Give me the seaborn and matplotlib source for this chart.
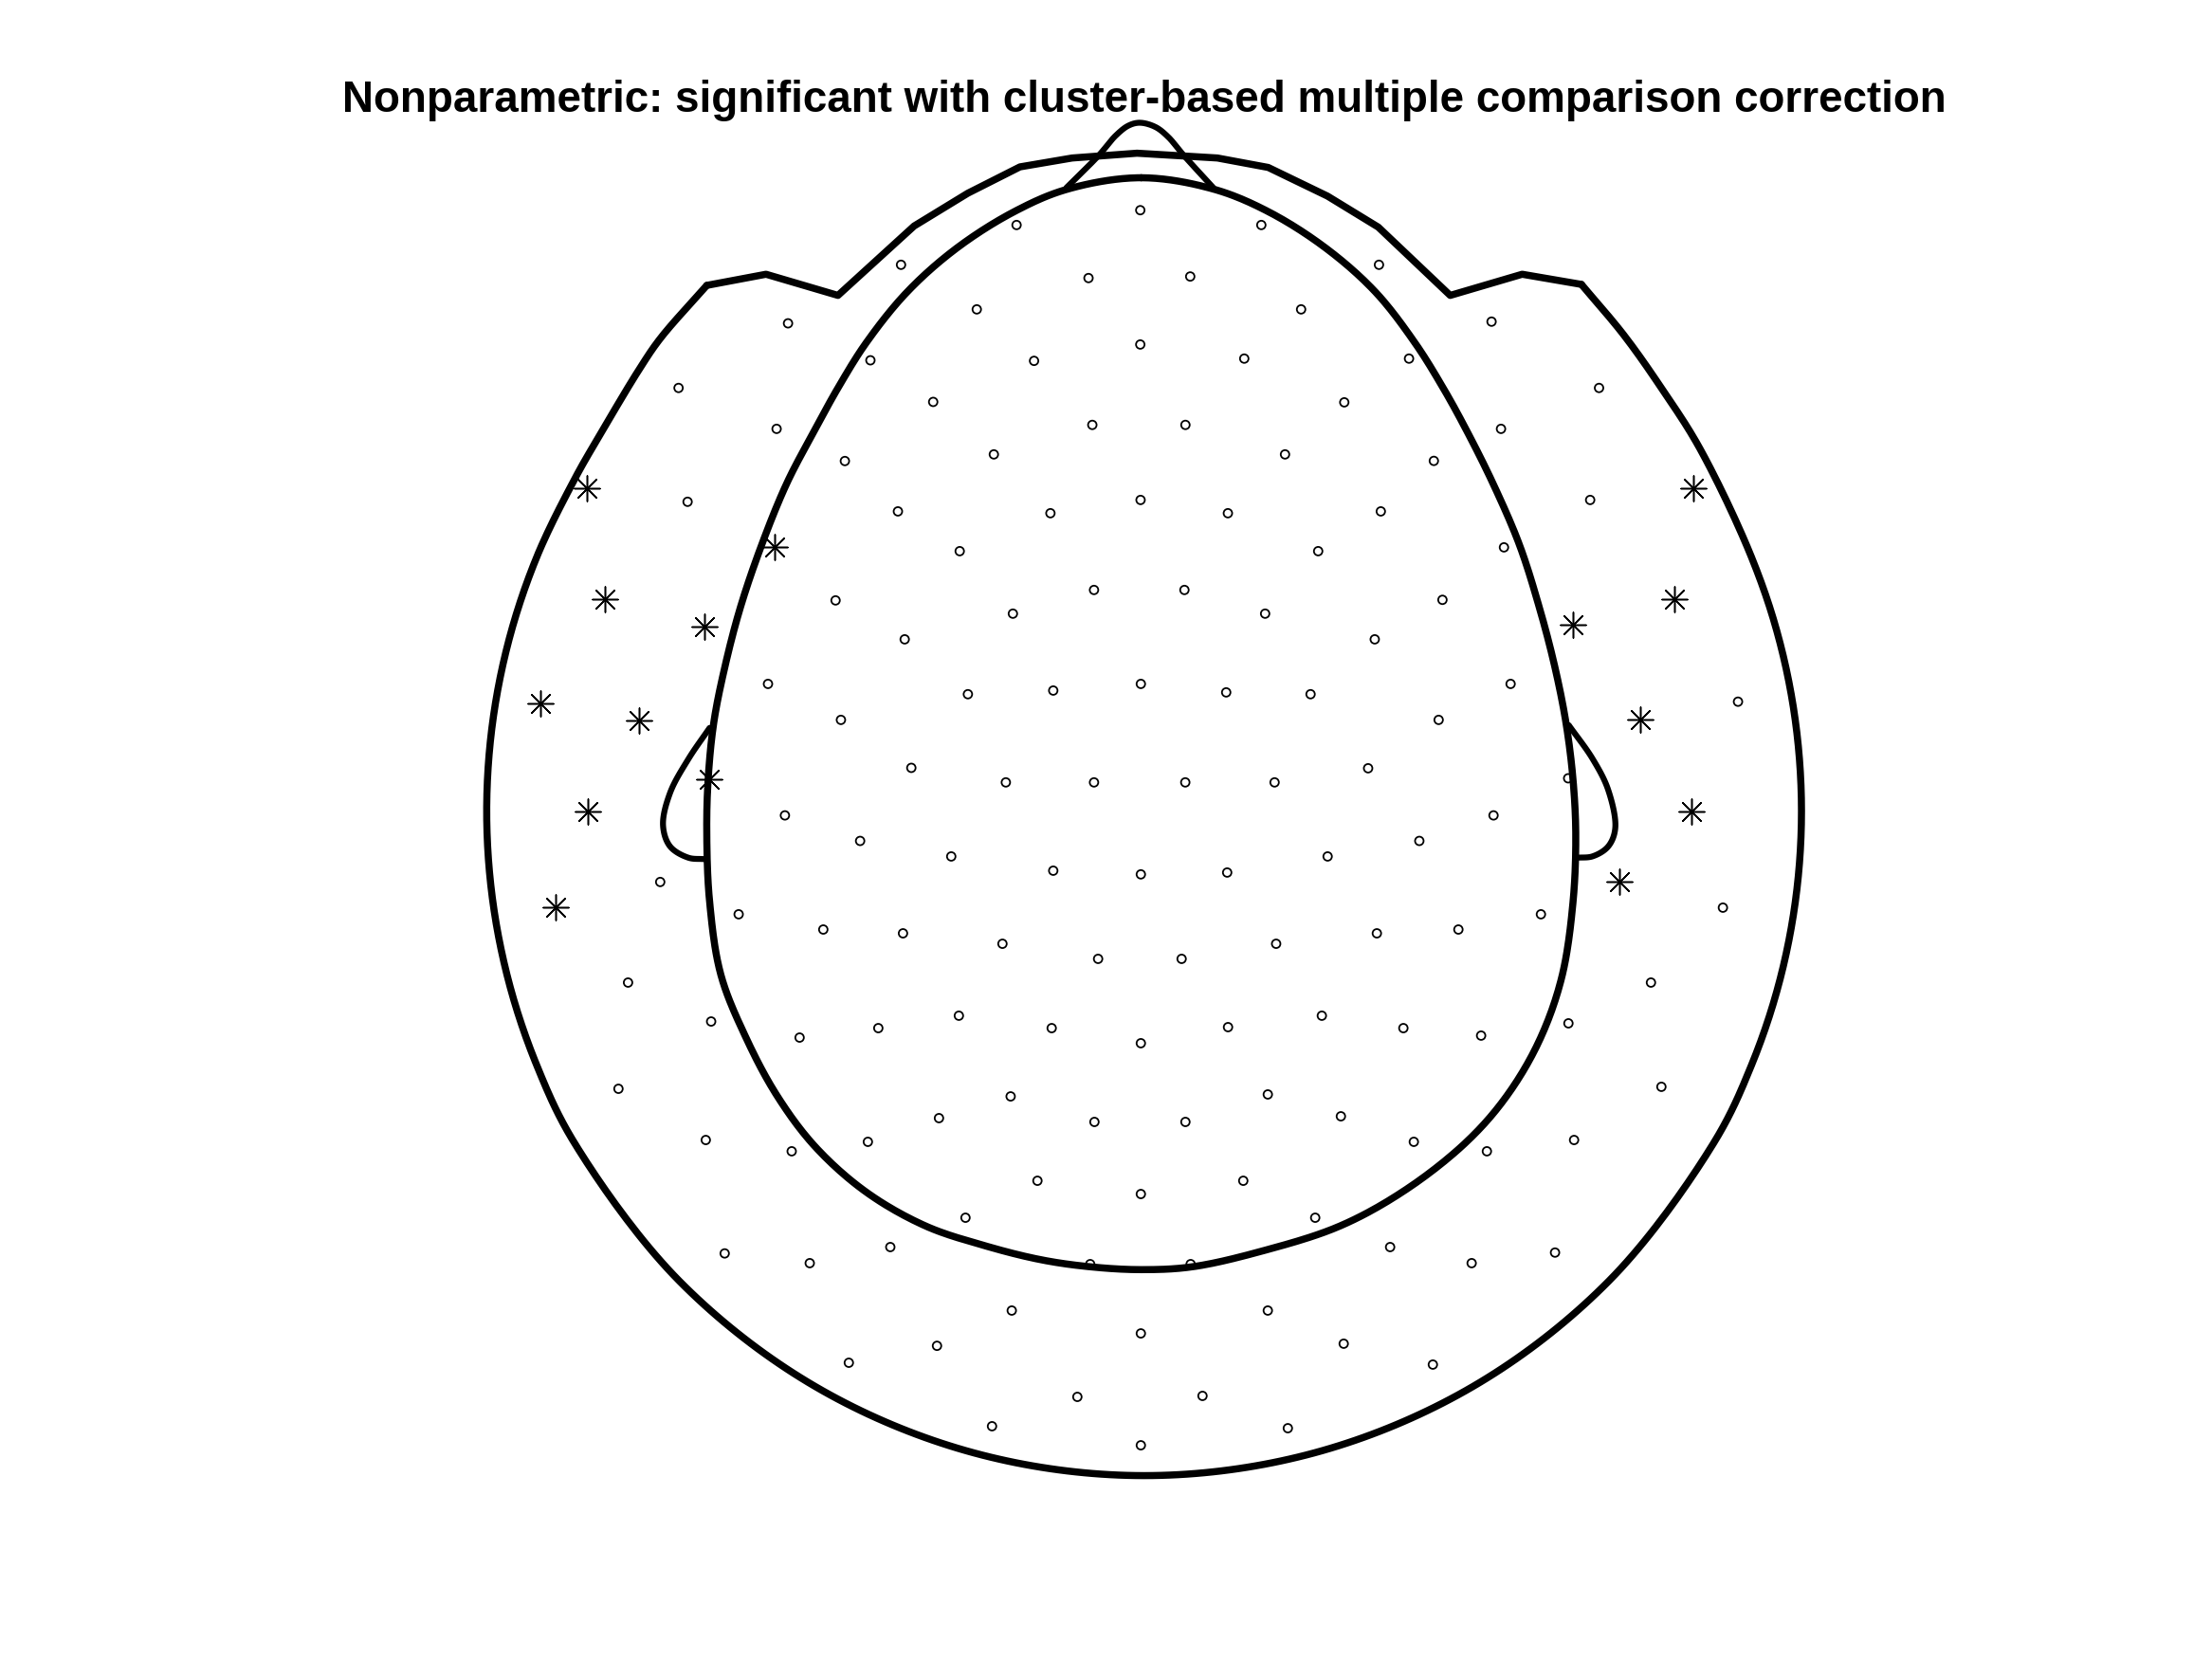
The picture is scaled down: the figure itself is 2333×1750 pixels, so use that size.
import numpy as np
import pandas as pd
import matplotlib
matplotlib.use("Agg")
import matplotlib.pyplot as plt
import seaborn as sns

# channel positions (1568x1176 px frame, y down)
chan_x = [808.3, 720.6, 894.1, 638.7, 977.5, 771.6, 843.7, 692.4, 922.3, 558.6,
          1057.3, 808.3, 617.0, 733.0, 882.0, 998.8, 481.0, 1133.5, 661.5, 952.9,
          550.5, 1064.0, 774.3, 840.3, 704.5, 910.9, 598.9, 1016.4, 487.4, 1127.2,
          808.5, 636.5, 744.6, 870.4, 978.8, 680.3, 934.4, 1066.1, 592.3, 1022.5,
          775.5, 839.6, 718.0, 896.8, 641.3, 974.5, 544.4, 1070.8, 686.1, 746.6,
          808.7, 869.2, 929.0, 1232.0, 596.1, 1019.8, 646.0, 969.8, 713.0, 775.5,
          840.2, 903.5, 1111.6, 556.4, 1058.7, 609.7, 1006.1, 674.3, 941.1, 746.6,
          808.7, 869.9, 468.0, 1221.3, 523.6, 1092.3, 583.6, 1033.8, 640.1, 976.0,
          710.6, 904.6, 778.4, 837.6, 445.2, 1170.3, 679.7, 937.0, 504.1, 1111.8,
          622.6, 994.8, 745.5, 870.5, 566.8, 1049.9, 808.7, 438.4, 1177.7, 716.4,
          898.7, 665.6, 950.5, 775.8, 840.3, 500.3, 1115.8, 615.2, 1002.2, 561.2,
          1054.0, 735.4, 881.3, 808.7, 684.4, 932.3, 513.7, 1102.3, 574.0, 1043.2,
          631.1, 985.4, 772.8, 844.0, 717.2, 898.7, 808.7, 664.2, 952.5, 601.7,
          1015.7, 763.7, 852.4, 703.2, 912.9, 808.7]
chan_y = [149.0, 159.5, 159.5, 187.7, 187.7, 197.1, 196.0, 219.3, 219.3, 229.2,
          228.0, 244.2, 255.4, 255.8, 254.2, 254.2, 275.0, 275.0, 284.9, 285.2,
          304.0, 304.0, 301.2, 301.2, 322.1, 322.1, 326.8, 326.7, 355.7, 354.4,
          354.4, 362.5, 363.8, 363.8, 362.5, 390.7, 390.7, 388.0, 425.6, 425.2,
          418.2, 418.2, 435.0, 435.0, 453.2, 453.2, 484.8, 484.8, 492.1, 489.5,
          484.8, 490.8, 492.1, 497.4, 510.3, 510.3, 544.3, 544.6, 554.6, 554.6,
          554.6, 554.6, 551.7, 578.0, 578.0, 596.1, 596.1, 607.1, 607.1, 617.2,
          619.8, 618.5, 625.2, 643.4, 648.1, 648.1, 658.9, 658.9, 661.6, 661.6,
          669.0, 669.0, 679.7, 679.7, 696.5, 696.5, 720.0, 720.0, 724.1, 725.4,
          728.8, 728.8, 728.8, 728.1, 735.5, 734.1, 739.5, 771.8, 770.4, 777.2,
          775.8, 792.6, 791.3, 795.3, 795.3, 808.1, 808.1, 809.4, 809.4, 816.1,
          816.1, 837.0, 837.0, 846.4, 863.2, 863.2, 888.5, 887.9, 895.4, 895.4,
          884.0, 884.0, 896.1, 896.1, 929.0, 929.0, 945.2, 954.0, 952.5, 966.0,
          967.3, 990.2, 989.5, 1011.0, 1012.4, 1024.5]

# channels in the significant cluster
sig_x = [416.2, 549.0, 429.0, 499.5, 383.0, 453.0, 503.0, 416.6, 394.0,
         1200.3, 1187.0, 1115.2, 1162.8, 1199.2, 1148.1]
sig_y = [346.3, 388.0, 425.0, 444.3, 498.6, 510.4, 552.3, 575.5, 643.2,
         346.3, 425.0, 443.1, 510.2, 575.5, 625.1]

# helmet outline: angular top part, and the rounded rest
head_top_x = [501, 543, 594, 648, 686, 723, 760, 806, 863, 899, 941, 977, 1028, 1079, 1121]
head_top_y = [202.3, 194.4, 209.4, 160.2, 137, 118.3, 112, 108.6, 112, 118.7, 139, 161,
              209.4, 194.4, 201.6]
head_low_x = [1121, 1151, 1178, 1205, 1241.5, 1261.1, 1273, 1277, 1273, 1261.1,
              1241.5, 1214.6, 1140.5, 1044, 931.6, 811, 690.4, 578, 481.5, 407.4,
              380.5, 360.9, 349, 345, 349, 360.9, 380.5, 407.4, 426, 453, 468, 501]
head_low_y = [201.6, 237.4, 275.5, 318, 394.8, 453.1, 513.5, 575, 636.5, 696.9,
              755.2, 810.5, 908.0, 982.9, 1029.9, 1046, 1029.9, 982.9, 908.0, 810.5,
              755.2, 696.9, 636.5, 575, 513.5, 453.1, 394.8, 339.5, 307, 262, 240, 202.3]

inner_x = [809, 860, 899, 940, 975, 1003, 1023, 1039, 1058, 1077, 1091, 1102, 1110,
           1115, 1117, 1115, 1107, 1091, 1068, 1040, 997, 950, 894, 845, 809,
           773, 738, 698, 656, 614, 578, 551, 529, 511, 503, 501, 502, 506,
           514, 525, 540, 558, 578, 594, 614, 643, 678, 719, 757, 809]
inner_y = [126, 134, 150, 176, 207, 243, 275, 304, 342, 386, 430, 472, 512, 552, 592,
           640, 693, 738, 777, 809, 843, 869, 887, 898, 900, 898, 893, 883,
           869, 845, 813, 777, 736, 691, 639, 590, 552, 512, 472, 430, 386,
           342, 304, 275, 243, 207, 176, 150, 134, 126]

nose_x = [756, 779, 791, 800, 808, 819, 828, 839, 860]
nose_y = [133, 110, 96, 89, 87, 90, 97, 110, 133]

ear_l_x = [503, 488, 475, 470, 475, 488, 499]
ear_l_y = [516, 538, 562, 585, 600, 608, 609]
ear_r_x = [1112, 1129, 1140, 1145, 1140, 1129, 1118]
ear_r_y = [514, 538, 560, 587, 600, 607, 608]

title = "Nonparametric: significant with cluster-based multiple comparison correction"


def smooth(xs, ys, closed=False, n=20):
    # centripetal catmull-rom through the outline vertices (no facets, no overshoot)
    p = np.column_stack([xs, ys]).astype(float)
    if closed:
        p = p[:-1]
        ext = np.vstack([p[-1], p, p[0], p[1]])
    else:
        ext = np.vstack([2 * p[0] - p[1], p, 2 * p[-1] - p[-2]])
    out = []
    for i in range(1, len(ext) - 2):
        p0, p1, p2, p3 = ext[i - 1], ext[i], ext[i + 1], ext[i + 2]
        t0 = 0.0
        t1 = t0 + np.linalg.norm(p1 - p0) ** 0.5
        t2 = t1 + np.linalg.norm(p2 - p1) ** 0.5
        t3 = t2 + np.linalg.norm(p3 - p2) ** 0.5
        t = np.linspace(t1, t2, n, endpoint=False)[:, None]
        a1 = (t1 - t) / (t1 - t0) * p0 + (t - t0) / (t1 - t0) * p1
        a2 = (t2 - t) / (t2 - t1) * p1 + (t - t1) / (t2 - t1) * p2
        a3 = (t3 - t) / (t3 - t2) * p2 + (t - t2) / (t3 - t2) * p3
        b1 = (t2 - t) / (t2 - t0) * a1 + (t - t0) / (t2 - t0) * a2
        b2 = (t3 - t) / (t3 - t1) * a2 + (t - t1) / (t3 - t1) * a3
        out.append((t2 - t) / (t2 - t1) * b1 + (t - t1) / (t2 - t1) * b2)
    out.append(ext[-2][None, :])
    out = np.vstack(out)
    return out[:, 0], out[:, 1]


sns.set_style("white")
fig = plt.figure(figsize=(23.33, 17.5), dpi=100)
ax = fig.add_axes([0, 0, 1, 1])

curves = [
    (head_top_x, head_top_y, 5.4),
    (*smooth(head_low_x, head_low_y), 5.4),
    (*smooth(inner_x, inner_y, closed=True), 5.4),
    (*smooth(nose_x, nose_y), 4.5),
    (*smooth(ear_l_x, ear_l_y), 4.5),
    (*smooth(ear_r_x, ear_r_y), 4.5),
]
for xs, ys, lw in curves:
    sns.lineplot(x=xs, y=ys, sort=False, estimator=None, color="black",
                 linewidth=lw, ax=ax, legend=False)

chans = pd.DataFrame({"x": chan_x, "y": chan_y})
sns.scatterplot(data=chans, x="x", y="y", marker="o", s=42,
                facecolor="none", edgecolor="black", linewidth=1.3, ax=ax)

sig = pd.DataFrame({"x": sig_x, "y": sig_y})
sns.scatterplot(data=sig, x="x", y="y", marker=(8, 2, 0), s=380,
                color="black", edgecolor="black", linewidth=1.1, ax=ax)

ax.set_xlim(0, 1568)
ax.set_ylim(1176, 0)
ax.set_axis_off()

t = ax.text(811, 79, title, fontsize=25, fontweight="bold", color="black",
            family=["Liberation Sans", "DejaVu Sans"], ha="center", va="baseline")
fig.canvas.draw()
w = t.get_window_extent().width
t.set_fontsize(25 * 1690 / w)

fig.savefig("out.png", dpi=100)
